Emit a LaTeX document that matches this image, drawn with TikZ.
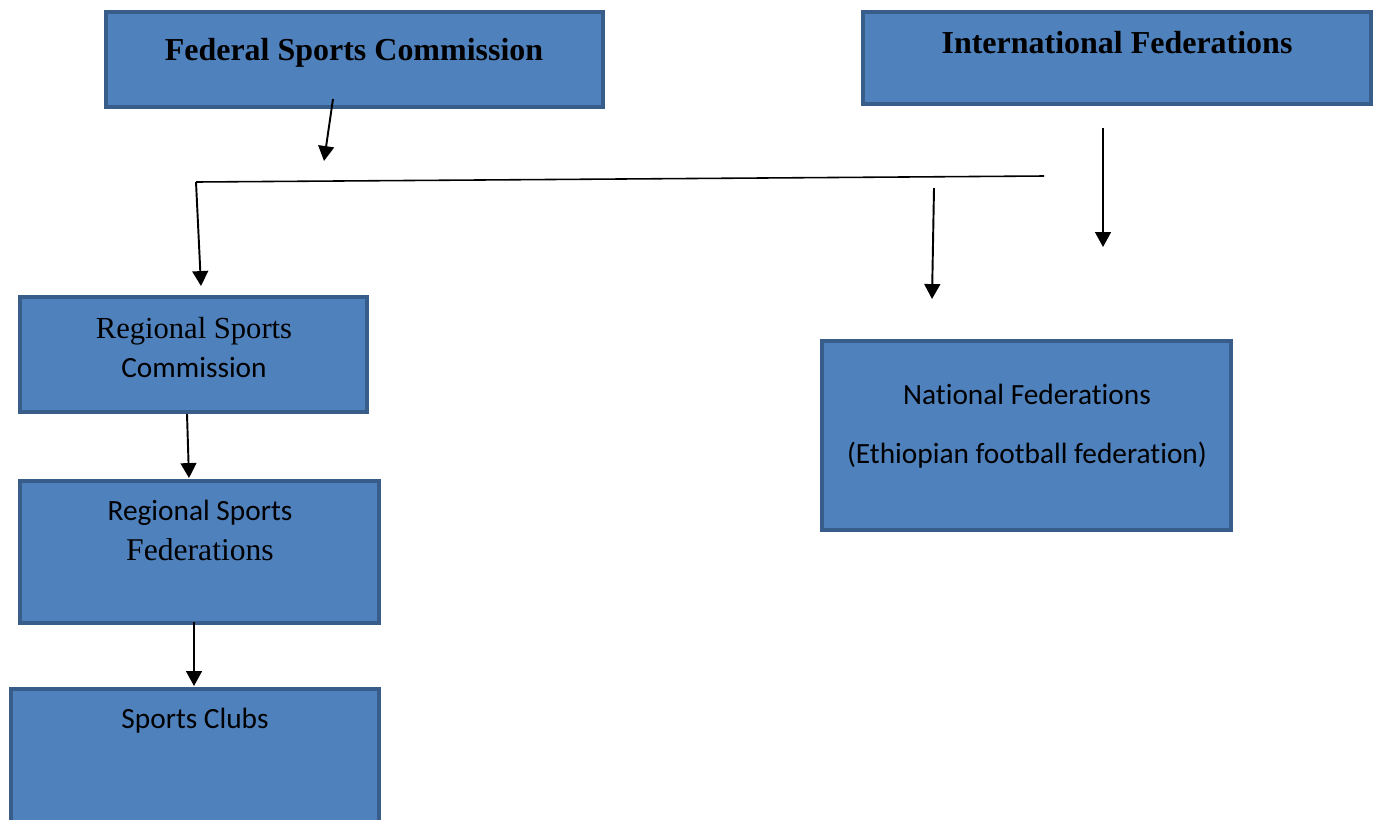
\documentclass[tikz,border=0pt]{standalone}
\usepackage{fontspec}
\setmainfont{Liberation Serif}
\newfontfamily\calibri[Ligatures=NoCommon]{Carlito}
\usetikzlibrary{arrows.meta}
\definecolor{boxfill}{HTML}{4F81BD}
\definecolor{boxline}{HTML}{385D8A}
\tikzset{
  orgbox/.style={draw=boxline, fill=boxfill, line width=2.2pt, inner sep=0pt, outer sep=0pt},
  boxtext/.style={anchor=base, inner sep=0pt, text=black},
  sanstext/.style={boxtext, font=\calibri\fontsize{16.7}{20}\selectfont},
  link/.style={line width=1.1pt, -{Triangle[width=9pt,length=8.5pt]}}
}

\begin{document}
\begin{tikzpicture}[x=0.02cm, y=-0.02cm]
  \useasboundingbox (0,0) rectangle (1381,819);
  \clip (0,0) rectangle (1381,819);
  % boxes
  \node[orgbox, minimum width=9.94cm, minimum height=1.9cm] (fsc) at (354.5,59.5) {};
  \node[orgbox, minimum width=10.16cm, minimum height=1.84cm] (intfed) at (1117,58) {};
  \node[orgbox, minimum width=6.94cm, minimum height=2.3cm] (rsc) at (193.5,354.5) {};
  \node[orgbox, minimum width=7.18cm, minimum height=2.84cm] (rsf) at (199.5,552) {};
  \node[orgbox, minimum width=7.36cm, minimum height=2.84cm] (clubs) at (195,760) {};
  \node[orgbox, minimum width=8.18cm, minimum height=3.78cm] (natfed) at (1026.5,435.5) {};
  % texts
  \node[boxtext, font=\fontsize{18.2}{20}\selectfont\bfseries] (fsct) at (354,60) {Federal Sports Commission};
  \node[boxtext, font=\fontsize{18.2}{20}\selectfont\bfseries] (intfedt) at (1117,53) {International Federations};
  \node[boxtext, font=\fontsize{17.4}{20}\selectfont] (rsct1) at (194,338) {Regional Sports};
  \node[sanstext] (rsct2) at (194,377) {Commission};
  \node[sanstext] (rsft1) at (200,520) {Regional Sports};
  \node[boxtext, font=\fontsize{18}{20}\selectfont] (rsft2) at (200,560) {Federations};
  \node[sanstext] (clubst) at (195,728) {Sports Clubs};
  \node[sanstext] (natfedt1) at (1027,404) {National Federations};
  \node[sanstext] (natfedt2) at (1027,463) {(Ethiopian football federation)};
  % connector points
  \coordinate (fscout) at (333,99);
  \coordinate (fscin) at (324,161);
  \coordinate (barleft) at (196,182);
  \coordinate (barright) at (1044,176);
  \coordinate (rscin) at (201,286);
  \coordinate (natout) at (934,188);
  \coordinate (natin) at (932,299);
  \coordinate (intout) at (1103,128);
  \coordinate (intin) at (1103,247);
  \coordinate (rscout) at (187,414);
  \coordinate (rsfin) at (189,478);
  \coordinate (rsfout) at (194,622);
  \coordinate (clubsin) at (194,686);
  % connectors
  \draw[link] (fscout) -- (fscin);
  \draw[line width=0.9pt] (barright) -- (barleft);
  \draw[link] (barleft) -- (rscin);
  \draw[link] (natout) -- (natin);
  \draw[link] (intout) -- (intin);
  \draw[link] (rscout) -- (rsfin);
  \draw[link] (rsfout) -- (clubsin);
\end{tikzpicture}
\end{document}
